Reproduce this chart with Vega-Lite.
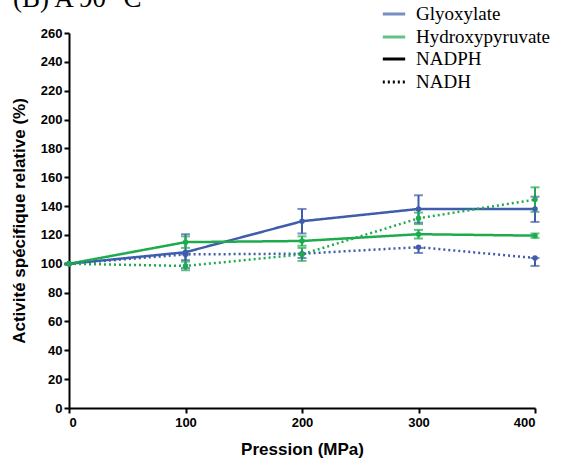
{
  "$schema": "https://vega.github.io/schema/vega-lite/v6.json",
  "width": 466,
  "height": 375,
  "autosize": {"type": "none"},
  "padding": {"left": 69, "top": 33, "right": 37, "bottom": 57},
  "background": "white",
  "title": {"text": "(B) A 90 °C", "anchor": "start", "frame": "group", "font": "Liberation Serif", "fontSize": 27, "fontWeight": "normal", "color": "black", "offset": 0, "dx": -56, "dy": 33, "baseline": "alphabetic"},
  "config": {
    "view": {"stroke": null},
    "axis": {"domainColor": "black", "domainWidth": 2, "tickColor": "black", "tickWidth": 2, "tickSize": 5, "labelFont": "Liberation Sans", "labelFontWeight": "bold", "labelFontSize": 13, "labelColor": "black", "titleFont": "Liberation Sans", "titleFontWeight": "bold", "titleFontSize": 17, "titleColor": "black", "grid": false, "labelOverlap": false},
    "legend": {"labelFont": "Liberation Serif", "labelFontSize": 19, "labelColor": "black", "labelOffset": 9, "symbolType": "stroke", "symbolSize": 500, "symbolStrokeWidth": 3, "rowPadding": 0, "title": null}
  },
  "data": {"values": [
    {"substrate": "Glyoxylate", "cofactor": "NADPH", "p": 0, "v": 100, "lo": 100, "hi": 100},
    {"substrate": "Glyoxylate", "cofactor": "NADPH", "p": 100, "v": 108, "lo": 97, "hi": 120.5},
    {"substrate": "Glyoxylate", "cofactor": "NADPH", "p": 200, "v": 129.5, "lo": 121, "hi": 138},
    {"substrate": "Glyoxylate", "cofactor": "NADPH", "p": 300, "v": 138, "lo": 128.5, "hi": 147.5},
    {"substrate": "Glyoxylate", "cofactor": "NADPH", "p": 400, "v": 138, "lo": 129, "hi": 146.5},
    {"substrate": "Hydroxypyruvate", "cofactor": "NADPH", "p": 0, "v": 100, "lo": 100, "hi": 100},
    {"substrate": "Hydroxypyruvate", "cofactor": "NADPH", "p": 100, "v": 115, "lo": 111, "hi": 119},
    {"substrate": "Hydroxypyruvate", "cofactor": "NADPH", "p": 200, "v": 115.8, "lo": 112.5, "hi": 119},
    {"substrate": "Hydroxypyruvate", "cofactor": "NADPH", "p": 300, "v": 120.5, "lo": 117.5, "hi": 123.5},
    {"substrate": "Hydroxypyruvate", "cofactor": "NADPH", "p": 400, "v": 119.5, "lo": 118, "hi": 121},
    {"substrate": "Glyoxylate", "cofactor": "NADH", "p": 0, "v": 100, "lo": 100, "hi": 100},
    {"substrate": "Glyoxylate", "cofactor": "NADH", "p": 100, "v": 106.5, "lo": 102.5, "hi": 106.5},
    {"substrate": "Glyoxylate", "cofactor": "NADH", "p": 200, "v": 107, "lo": 104, "hi": 107},
    {"substrate": "Glyoxylate", "cofactor": "NADH", "p": 300, "v": 111.5, "lo": 107.5, "hi": 111},
    {"substrate": "Glyoxylate", "cofactor": "NADH", "p": 400, "v": 104, "lo": 98.5, "hi": 104},
    {"substrate": "Hydroxypyruvate", "cofactor": "NADH", "p": 0, "v": 100, "lo": 100, "hi": 100},
    {"substrate": "Hydroxypyruvate", "cofactor": "NADH", "p": 100, "v": 98.5, "lo": 95.5, "hi": 101.5},
    {"substrate": "Hydroxypyruvate", "cofactor": "NADH", "p": 200, "v": 106.5, "lo": 102, "hi": 111},
    {"substrate": "Hydroxypyruvate", "cofactor": "NADH", "p": 300, "v": 131.5, "lo": 127.5, "hi": 135.5},
    {"substrate": "Hydroxypyruvate", "cofactor": "NADH", "p": 400, "v": 144.5, "lo": 136, "hi": 153}
  ]},
  "encoding": {
    "x": {"field": "p", "type": "quantitative", "scale": {"domain": [0, 400], "nice": false}, "axis": {"values": [0, 100, 200, 300, 400], "title": "Pression (MPa)", "titlePadding": 12, "labelPadding": 3, "labelOverlap": false}},
    "color": {"field": "substrate", "type": "nominal", "scale": {"domain": ["Glyoxylate", "Hydroxypyruvate"], "range": ["#3F5DAA", "#1EAB4E"]}, "legend": {"orient": "none", "legendX": 312, "legendY": -32}}
  },
  "layer": [
    {
      "mark": {"type": "line", "strokeWidth": 2.5},
      "encoding": {
        "y": {"field": "v", "type": "quantitative", "scale": {"domain": [0, 260], "nice": false}, "axis": {"values": [0,20,40,60,80,100,120,140,160,180,200,220,240,260], "title": "Activité spécifique relative (%)", "titlePadding": 12, "labelPadding": 2, "labelOverlap": false, "labelFlush": false}},
        "strokeDash": {"field": "cofactor", "type": "nominal", "scale": {"domain": ["NADPH", "NADH"], "range": [[1, 0], [2, 3]]}, "legend": {"orient": "none", "legendX": 312, "legendY": 13, "symbolStrokeColor": "black"}},
        "detail": {"field": "substrate"}
      }
    },
    {
      "mark": {"type": "rule", "strokeWidth": 2},
      "encoding": {"y": {"field": "lo", "type": "quantitative", "axis": {"values": [0,20,40,60,80,100,120,140,160,180,200,220,240,260], "title": "Activité spécifique relative (%)", "titlePadding": 12, "labelPadding": 2, "labelOverlap": false, "labelFlush": false}}, "y2": {"field": "hi"}}
    },
    {
      "mark": {"type": "tick", "orient": "horizontal", "size": 9, "thickness": 2},
      "encoding": {"y": {"field": "lo", "type": "quantitative", "axis": {"values": [0,20,40,60,80,100,120,140,160,180,200,220,240,260], "title": "Activité spécifique relative (%)", "titlePadding": 12, "labelPadding": 2, "labelOverlap": false, "labelFlush": false}}}
    },
    {
      "mark": {"type": "tick", "orient": "horizontal", "size": 9, "thickness": 2},
      "encoding": {"y": {"field": "hi", "type": "quantitative", "axis": {"values": [0,20,40,60,80,100,120,140,160,180,200,220,240,260], "title": "Activité spécifique relative (%)", "titlePadding": 12, "labelPadding": 2, "labelOverlap": false, "labelFlush": false}}}
    },
    {
      "mark": {"type": "point", "filled": true, "size": 30, "opacity": 1},
      "encoding": {"y": {"field": "v", "type": "quantitative", "axis": {"values": [0,20,40,60,80,100,120,140,160,180,200,220,240,260], "title": "Activité spécifique relative (%)", "titlePadding": 12, "labelPadding": 2, "labelOverlap": false, "labelFlush": false}}}
    }
  ]
}
